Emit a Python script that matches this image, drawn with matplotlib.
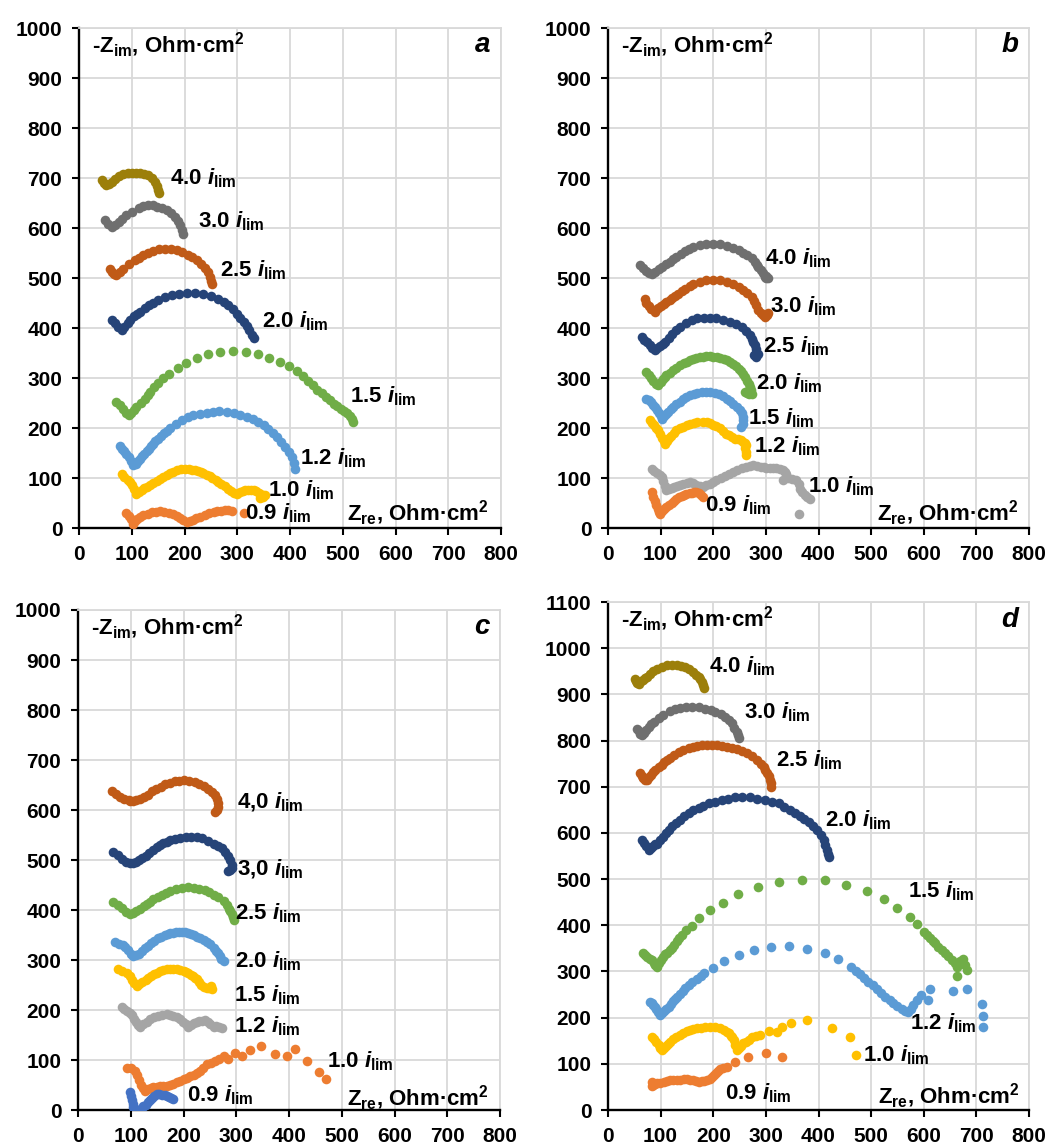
import matplotlib
matplotlib.use('Agg')
import matplotlib.pyplot as plt
import numpy as np

plt.rcParams['font.family'] = ['Liberation Sans', 'DejaVu Sans']
plt.rcParams['font.weight'] = 'bold'
plt.rcParams['mathtext.fontset'] = 'custom'
plt.rcParams['mathtext.rm'] = 'Liberation Sans:bold'
plt.rcParams['mathtext.bf'] = 'Liberation Sans:bold'
plt.rcParams['mathtext.it'] = 'Liberation Sans:italic:bold'
plt.rcParams['mathtext.sf'] = 'Liberation Sans:bold'

# Farben (Excel-Palette)
OLIVE = '#9c7f0a'
DGRAY = '#6f6f6f'
BROWN = '#c05a17'
DBLUE = '#264478'
GREEN = '#70ad47'
LBLUE = '#5b9bd5'
YELLOW = '#ffc000'
ORANGE = '#ed7d31'
LGRAY = '#a5a5a5'
BLUE = '#4472c4'

# ---------------- Panel a ----------------
A_40 = [(43,697),(48,690),(52,686),(57,688),(62,693),(68,699),(76,704),(84,709),(92,710),(100,711),(108,711),(116,711),(124,709),(131,706),(138,700),(144,693),(148,684),(150,676),(151,670)]
A_30 = [(49,616),(55,609),(62,603),(68,607),(75,613),(82,619),(90,626),(100,633),(113,641),(122,645),(131,647),(140,646),(147,643),(157,640),(166,636),(175,630),(182,623),(187,615),(192,606),(195,597),(197,588)]
A_25 = [(59,519),(63,512),(67,508),(71,506),(77,512),(84,519),(95,528),(106,536),(114,541),(122,546),(131,551),(141,555),(152,558),(163,559),(174,558),(185,557),(196,552),(207,547),(215,542),(223,536),(231,529),(239,521),(245,512),(249,503),(251,495),(252,488)]
A_20 = [(62,416),(68,410),(74,403),(81,396),(86,402),(92,410),(97,416),(104,424),(110,429),(116,433),(125,440),(133,446),(141,451),(150,457),(163,462),(176,466),(190,469),(204,471),(220,470),(236,469),(250,465),(264,459),(274,453),(283,446),(291,438),(299,429),(306,421),(312,413),(318,404),(323,396),(328,386),(331,380)]
A_15 = [(71,253),(78,246),(84,238),(90,230),(94,226),(99,230),(104,237),(109,243),(117,251),(125,259),(130,266),(135,273),(143,282),(150,291),(160,300),(171,309),(187,320),(203,331),(224,340),(245,348),(268,352),(291,355),(316,352),(340,349),(360,341),(381,333),(398,324),(414,314),(425,305),(435,295),(444,286),(452,277),(460,270),(468,263),(476,256),(483,249),(490,244),(496,239),(502,235),(508,230),(514,224),(518,218),(520,213)]
A_12 = [(78,164),(82,159),(86,154),(90,149),(94,142),(98,134),(103,126),(108,129),(112,134),(116,139),(120,144),(124,149),(128,154),(132,159),(137,164),(141,169),(145,174),(150,179),(156,185),(161,190),(167,195),(173,201),(184,209),(195,217),(206,222),(217,226),(229,229),(242,231),(254,233),(266,234),(280,233),(293,231),(306,227),(319,223),(330,218),(340,213),(350,206),(359,199),(367,191),(375,183),(383,173),(391,163),(398,153),(404,143),(408,131),(410,119)]
A_10 = [(81,109),(86,103),(92,97),(97,93),(101,86),(105,78),(109,69),(114,72),(119,76),(124,80),(128,83),(134,87),(141,91),(147,95),(154,99),(160,103),(167,107),(173,110),(179,113),(186,116),(194,118),(201,119),(208,118),(214,117),(220,116),(226,114),(231,112),(236,110),(242,107),(248,104),(253,100),(259,96),(264,93),(270,89),(276,85),(283,79),(288,75),(293,71),(299,68),(305,72),(310,75),(315,76),(321,77),(326,77),(331,77),(336,74),(341,70),(343,69),(348,67),(353,66),(349,62),(343,60)]
A_09 = [(90,31),(95,25),(99,18),(103,9),(106,14),(110,19),(116,23),(122,26),(130,29),(138,32),(146,33),(154,34),(162,33),(170,31),(179,29),(186,25),(192,20),(198,16),(204,13),(210,14),(216,17),(222,20),(230,23),(238,26),(246,30),(255,33),(262,34),(269,35),(276,36),(283,36),(290,35),(312,31)]

# ---------------- Panel b ----------------
B_40 = [(61,526),(67,520),(72,515),(77,511),(83,509),(90,513),(96,518),(102,523),(110,528),(118,533),(124,538),(130,543),(138,549),(146,555),(154,559),(162,563),(174,566),(186,568),(200,568),(213,568),(226,565),(238,561),(248,556),(257,551),(265,546),(273,541),(279,533),(283,527),(285,523),(290,516),(294,510),(298,503),(301,501),(304,500),(300,505)]
B_30 = [(70,459),(73,451),(77,444),(82,438),(89,433),(95,440),(100,445),(106,449),(111,453),(117,457),(122,461),(128,465),(133,469),(140,474),(147,479),(155,484),(162,489),(174,493),(186,496),(200,497),(213,496),(226,492),(238,488),(248,482),(257,476),(265,470),(273,463),(278,455),(282,446),(285,436),(290,430),(294,426),(298,423),(302,426),(304,430)]
B_25 = [(64,383),(69,377),(74,372),(79,366),(84,361),(89,356),(94,361),(99,365),(104,369),(108,373),(115,381),(122,388),(130,396),(137,403),(148,410),(159,417),(170,420),(182,421),(194,421),(206,421),(219,417),(231,413),(243,408),(254,403),(262,395),(269,386),(273,379),(276,373),(279,366),(281,358),(282,350),(282,343),(278,347),(285,348)]
B_20 = [(73,313),(77,306),(81,300),(86,294),(91,289),(95,286),(100,293),(104,298),(108,303),(111,306),(118,311),(124,316),(130,321),(137,326),(144,330),(150,333),(156,336),(162,339),(168,341),(175,342),(181,343),(187,344),(194,344),(200,343),(207,342),(213,341),(220,339),(226,336),(232,333),(238,329),(243,324),(248,319),(253,314),(257,309),(261,302),(265,295),(268,289),(270,283),(272,276),(273,269),(268,269),(264,270),(260,272),(266,275)]
B_15 = [(73,259),(77,256),(81,252),(85,247),(89,243),(93,237),(97,230),(100,224),(102,219),(106,224),(110,229),(114,233),(119,238),(124,243),(130,248),(136,253),(143,258),(149,263),(156,266),(163,269),(170,271),(178,273),(186,273),(194,273),(203,271),(210,269),(218,265),(226,259),(232,254),(238,249),(245,243),(250,237),(254,231),(257,223),(257,216),(256,209),(253,203)]
B_12 = [(80,216),(84,211),(88,206),(92,200),(95,196),(99,189),(103,181),(106,174),(108,169),(112,174),(116,180),(120,185),(125,190),(130,196),(136,200),(143,203),(150,206),(156,209),(163,211),(170,212),(181,213),(188,212),(194,210),(200,207),(206,204),(212,200),(218,195),(225,189),(230,186),(235,183),(241,179),(247,178),(253,176),(257,173),(260,170),(263,166),(261,160),(263,153),(263,146)]
B_10 = [(83,119),(88,114),(93,110),(98,106),(102,103),(105,94),(108,85),(111,76),(116,79),(121,81),(126,83),(131,85),(137,86),(143,88),(150,91),(156,93),(162,90),(168,87),(174,85),(181,83),(187,86),(193,89),(199,92),(206,96),(214,100),(222,104),(230,109),(238,113),(246,117),(254,120),(262,123),(270,125),(276,126),(283,124),(290,123),(296,122),(301,121),(308,121),(314,120),(320,120),(326,119),(332,116),(336,112),(339,109),(333,96),(342,100),(350,98),(358,96),(362,88),(364,79),(368,72),(374,66),(378,63),(383,59),(362,29)]
B_09 = [(83,73),(86,63),(89,54),(92,46),(95,38),(97,33),(99,29),(103,34),(107,38),(111,43),(116,47),(121,51),(126,55),(130,59),(135,62),(140,64),(145,67),(149,69),(155,70),(160,71),(164,72),(168,73),(172,70),(176,67),(181,63)]

# ---------------- Panel c ----------------
C_40 = [(64,638),(72,632),(80,627),(88,623),(96,620),(99,619),(104,619),(110,620),(118,622),(125,626),(132,631),(140,638),(148,642),(157,647),(165,652),(175,655),(184,658),(192,659),(200,660),(211,659),(222,657),(230,653),(238,648),(246,643),(254,637),(259,630),(263,622),(265,614),(266,606),(264,600),(260,596)]
C_30 = [(67,517),(75,510),(83,503),(91,497),(99,494),(104,495),(110,497),(116,500),(121,504),(128,509),(135,515),(142,521),(149,527),(156,531),(162,534),(168,537),(175,540),(184,543),(194,545),(204,546),(214,547),(225,546),(235,544),(246,538),(257,532),(265,528),(273,524),(279,516),(285,508),(289,500),(292,491),(291,484),(288,480),(285,478)]
C_25 = [(67,416),(75,410),(83,404),(91,397),(99,393),(104,394),(110,398),(118,403),(125,408),(131,413),(137,417),(143,422),(151,427),(159,431),(167,435),(175,439),(186,442),(197,445),(208,446),(219,445),(230,443),(241,440),(249,436),(257,431),(266,426),(276,419),(282,410),(286,403),(288,399),(291,392),(293,386),(295,380)]
C_20 = [(70,337),(78,333),(86,331),(90,327),(95,320),(100,313),(105,308),(110,310),(115,313),(121,318),(127,324),(133,329),(139,334),(145,338),(152,344),(158,347),(164,350),(170,352),(175,354),(181,355),(186,356),(192,356),(197,357),(203,356),(208,355),(214,353),(219,350),(225,347),(231,344),(238,341),(244,337),(250,332),(257,324),(261,319),(265,314),(269,308),(272,303),(276,298)]
C_15 = [(76,282),(84,279),(92,275),(98,268),(103,261),(107,255),(111,249),(116,252),(122,257),(128,261),(133,265),(139,269),(145,272),(150,275),(156,278),(162,280),(168,282),(175,283),(181,283),(188,282),(194,280),(200,279),(205,277),(209,275),(214,271),(218,268),(222,265),(225,262),(229,257),(233,251),(238,246),(244,245),(249,244),(254,242),(252,248)]
C_12 = [(83,206),(88,202),(93,198),(98,194),(102,190),(106,183),(110,176),(114,170),(118,167),(124,172),(130,177),(137,183),(144,186),(152,189),(160,191),(168,193),(174,191),(180,189),(187,187),(193,182),(199,177),(204,172),(209,167),(214,171),(219,175),(225,177),(230,178),(235,179),(241,180),(246,177),(251,172),(257,167),(262,168),(267,166),(273,164)]
C_10 = [(92,85),(100,84),(108,79),(112,70),(116,60),(120,51),(124,44),(127,39),(133,42),(138,44),(143,46),(149,47),(155,48),(161,48),(168,49),(174,50),(180,53),(187,56),(194,59),(200,62),(206,65),(212,68),(219,71),(225,75),(231,79),(237,84),(244,92),(252,95),(260,98),(268,103),(276,108),(285,102),(298,115),(311,108),(326,121),(347,128),(374,113),(396,108),(412,122),(435,98),(456,77),(470,62)]
C_09 = [(99,36),(101,28),(103,20),(105,12),(105,7),(108,3),(112,1),(116,0),(118,0),(121,4),(124,8),(128,11),(133,16),(137,20),(141,25),(145,29),(149,33),(154,32),(159,31),(164,30),(168,29),(173,27),(177,25),(181,23)]

# ---------------- Panel d ----------------
D_40 = [(51,934),(53,928),(55,924),(58,923),(62,928),(66,932),(70,935),(74,938),(80,944),(86,950),(93,956),(102,960),(112,963),(122,964),(131,963),(139,962),(146,960),(154,955),(162,949),(168,942),(172,937),(175,934),(178,927),(181,920),(183,913)]
D_30 = [(55,826),(58,820),(61,815),(64,812),(68,817),(72,823),(77,830),(82,835),(88,840),(96,848),(105,855),(118,864),(127,868),(137,871),(148,872),(160,873),(172,872),(185,869),(195,866),(204,862),(214,857),(223,851),(230,845),(235,837),(240,828),(245,819),(247,812),(248,805)]
D_25 = [(61,729),(64,723),(67,718),(70,714),(74,714),(78,720),(82,725),(86,731),(90,736),(96,742),(102,748),(107,753),(112,758),(118,763),(125,768),(134,776),(143,780),(153,783),(161,786),(169,788),(178,790),(188,791),(198,791),(207,790),(217,788),(226,786),(236,784),(245,781),(255,777),(264,772),(274,766),(283,758),(290,750),(296,742),(299,736),(302,730),(305,724),(308,714),(309,707),(310,700)]
D_20 = [(64,584),(68,578),(72,572),(77,563),(81,567),(85,571),(89,575),(93,577),(98,584),(104,592),(110,599),(115,606),(122,614),(130,621),(137,628),(145,636),(153,644),(162,649),(172,653),(181,659),(191,664),(203,668),(216,671),(228,674),(241,677),(255,677),(270,677),(284,674),(298,671),(311,668),(324,664),(335,657),(346,649),(356,643),(365,636),(373,630),(381,624),(389,615),(397,606),(404,595),(410,584),(413,574),(416,563),(418,555),(420,548)]
D_15 = [(67,339),(71,335),(75,332),(79,328),(83,325),(87,318),(90,314),(93,310),(97,318),(101,325),(105,332),(109,337),(113,341),(117,346),(121,350),(126,358),(131,365),(135,372),(140,379),(149,389),(159,398),(173,415),(194,432),(219,449),(247,467),(285,483),(324,493),(368,498),(412,498),(453,487),(493,475),(525,457),(550,437),(573,418),(588,402),(600,386),(606,379),(611,372),(617,366),(622,361),(628,354),(634,346),(640,340),(647,333),(653,325),(660,318),(663,310),(663,290),(668,322),(674,326),(678,314),(682,303)]
D_12 = [(80,234),(83,231),(86,228),(89,224),(92,218),(95,212),(99,206),(103,211),(107,215),(111,219),(115,224),(119,229),(123,235),(127,240),(131,245),(136,251),(142,258),(147,265),(153,271),(160,277),(169,283),(176,290),(183,296),(200,308),(221,323),(248,335),(277,346),(310,352),(343,355),(379,348),(412,340),(438,326),(461,310),(472,302),(479,294),(487,286),(495,278),(503,271),(511,263),(519,254),(527,245),(535,238),(542,231),(550,225),(558,218),(565,215),(571,213),(576,219),(580,227),(587,238),(594,249),(609,238),(611,261),(656,258),(683,261),(710,229),(712,204),(712,179)]
D_10 = [(83,159),(87,153),(91,148),(96,141),(99,135),(102,130),(106,134),(110,138),(114,143),(118,148),(124,153),(130,158),(137,162),(143,166),(150,170),(156,173),(162,175),(169,177),(176,178),(184,180),(194,180),(203,179),(213,177),(220,173),(226,169),(229,166),(233,161),(236,157),(239,152),(242,141),(245,130),(249,134),(253,139),(257,144),(262,148),(267,152),(274,159),(281,160),(289,162),(305,170),(321,168),(331,180),(347,189),(378,195),(426,178),(459,159),(472,119)]
D_09 = [(83,61),(83,51),(86,55),(90,57),(94,58),(99,58),(106,60),(112,62),(118,64),(124,65),(131,66),(137,66),(144,67),(150,67),(156,66),(162,64),(167,62),(172,61),(178,62),(183,63),(188,65),(193,68),(197,72),(201,76),(205,80),(209,84),(213,88),(219,91),(226,94),(242,105),(266,115),(300,124),(331,115)]

YLABEL = r'-Z$_{\mathrm{im}}$, Ohm·cm$^{\mathrm{2}}$'
XLABEL = r'Z$_{\mathrm{re}}$, Ohm·cm$^{\mathrm{2}}$'


def ilim(s):
    return s + r' $\mathit{i}_{\mathrm{lim}}$'


def draw_panel(rect, series, labels, ymax, letter, zre_xy):
    ax = fig.add_axes(rect)
    for pts, col in series:
        arr = np.array(pts, dtype=float)
        ax.scatter(arr[:, 0], arr[:, 1], s=48, color=col, linewidths=0, zorder=3)
    for txt, x, y in labels:
        ax.text(x, y, ilim(txt), fontsize=16, fontweight='bold',
                ha='left', va='center', zorder=4)
    ax.text(zre_xy[0], zre_xy[1], XLABEL, fontsize=16, fontweight='bold',
            ha='left', va='center', zorder=4)
    ax.text(0.03, 0.965, YLABEL, transform=ax.transAxes, fontsize=16,
            fontweight='bold', ha='left', va='center')
    ax.text(0.975, 0.965, letter, transform=ax.transAxes, fontsize=20,
            fontweight='bold', fontstyle='italic', ha='right', va='center')

    ax.set_xlim(0, 800)
    ax.set_ylim(0, ymax)
    ax.set_xticks(np.arange(0, 801, 100))
    ax.set_yticks(np.arange(0, ymax + 1, 100))
    ax.grid(True, color='#d9d9d9', linewidth=1.3)
    ax.set_axisbelow(True)
    for side in ['top', 'right']:
        ax.spines[side].set_color('#d9d9d9')
        ax.spines[side].set_linewidth(1.3)
    for side in ['left', 'bottom']:
        ax.spines[side].set_color('black')
        ax.spines[side].set_linewidth(1.7)
    ax.tick_params(direction='out', length=5, width=1.5, labelsize=15, pad=7)
    for lab in ax.get_xticklabels() + ax.get_yticklabels():
        lab.set_fontweight('bold')
    return ax


fig = plt.figure(figsize=(10.48, 11.47), dpi=100)
W, H = 1048.0, 1147.0

draw_panel([79 / W, 1 - 528 / H, 422 / W, 500 / H],
           [(A_40, OLIVE), (A_30, DGRAY), (A_25, BROWN), (A_20, DBLUE),
            (A_15, GREEN), (A_12, LBLUE), (A_10, YELLOW), (A_09, ORANGE)],
           [('4.0', 173, 700), ('3.0', 226, 613), ('2.5', 268, 516), ('2.0', 347, 413),
            ('1.5', 513, 263), ('1.2', 419, 139), ('1.0', 359, 76), ('0.9', 315, 29)],
           1000, 'a', (508, 30))

draw_panel([608 / W, 1 - 528 / H, 421 / W, 500 / H],
           [(B_40, DGRAY), (B_30, BROWN), (B_25, DBLUE), (B_20, GREEN),
            (B_15, LBLUE), (B_12, YELLOW), (B_10, LGRAY), (B_09, ORANGE)],
           [('4.0', 298, 539), ('3.0', 307, 443), ('2.5', 295, 363), ('2.0', 281, 289),
            ('1.5', 266, 219), ('1.2', 277, 163), ('1.0', 380, 83), ('0.9', 184, 46)],
           1000, 'b', (512, 30))

draw_panel([78 / W, 1 - 1110 / H, 422 / W, 500 / H],
           [(C_40, BROWN), (C_30, DBLUE), (C_25, GREEN), (C_20, LBLUE),
            (C_15, YELLOW), (C_12, LGRAY), (C_10, ORANGE), (C_09, BLUE)],
           [('4,0', 301, 615), ('3,0', 301, 481), ('2.5', 298, 393), ('2.0', 298, 298),
            ('1.5', 295, 229), ('1.2', 295, 167), ('1.0', 472, 98), ('0.9', 206, 29)],
           1000, 'c', (510, 24))

draw_panel([608 / W, 1 - 1110 / H, 421 / W, 508 / H],
           [(D_40, OLIVE), (D_30, DGRAY), (D_25, BROWN), (D_20, DBLUE),
            (D_15, GREEN), (D_12, LBLUE), (D_10, YELLOW), (D_09, ORANGE)],
           [('4.0', 191, 960), ('3.0', 259, 862), ('2.5', 320, 758), ('2.0', 413, 628),
            ('1.5', 571, 473), ('1.2', 573, 188), ('1.0', 484, 119), ('0.9', 222, 36)],
           1100, 'd', (514, 29))

plt.savefig('out.png', dpi=100)
plt.close(fig)
